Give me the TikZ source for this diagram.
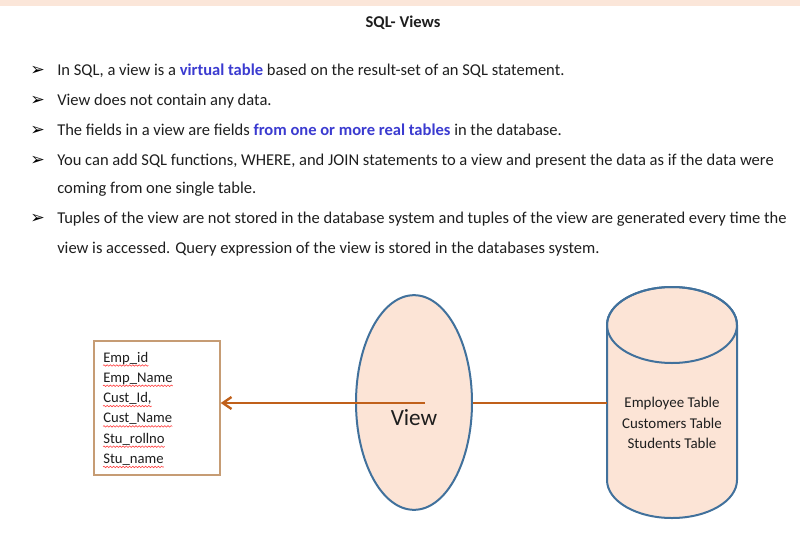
\documentclass[tikz,border=0pt]{standalone}
\usepackage{fontspec}
\setmainfont{Carlito}
\newfontfamily\symfont{DejaVu Sans}
\usetikzlibrary{shapes.geometric,arrows.meta,decorations.pathmorphing}
\definecolor{peach}{HTML}{FCE4D6}
\definecolor{topband}{HTML}{FBE6D9}
\definecolor{outlineblue}{HTML}{41719C}
\definecolor{arrowbrown}{HTML}{C0601A}
\definecolor{boxtan}{HTML}{C69C74}
\definecolor{txt}{HTML}{1E1E1E}
\definecolor{hlblue}{HTML}{3B3BD0}
\tikzset{
  bodytext/.style={anchor=base west, inner sep=0pt, text=txt, font=\fontsize{12.4pt}{15pt}\selectfont},
  bul/.style={anchor=base west, inner sep=0pt, text=black, font=\symfont\fontsize{13pt}{14pt}\selectfont},
  titlestyle/.style={anchor=base, inner sep=0pt, text=txt, font=\bfseries\fontsize{12.4pt}{15pt}\selectfont},
  fieldbox/.style={draw=boxtan, line width=1.1pt, fill=white, inner sep=0pt},
  fieldtext/.style={anchor=base west, inner sep=0pt, text=txt, font=\fontsize{11pt}{13pt}\selectfont},
  squig/.style={draw=red!75, line width=0.45pt, decorate, decoration={snake, amplitude=0.55pt, segment length=2.4pt}},
  viewell/.style={ellipse, draw=outlineblue, line width=1.5pt, fill=peach, inner sep=0pt, minimum width=87pt, minimum height=161pt},
  viewlbl/.style={anchor=base, inner sep=0pt, text=txt, font=\fontsize{17.4pt}{20pt}\selectfont},
  cyl/.style={draw=outlineblue, line width=1.5pt, fill=peach},
  dbtext/.style={align=center, inner sep=0pt, text=txt, font=\fontsize{11.2pt}{15.4pt}\selectfont},
  brownline/.style={draw=arrowbrown, line width=2pt},
}
\begin{document}
\begin{tikzpicture}[x=0.75pt,y=-0.75pt]
\useasboundingbox (0,0) rectangle (800,536);
\fill[topband] (0,0) rectangle (800,6);

% title
\node[titlestyle] (title) at (403,27) {SQL- Views};

% bullets
\node[bul] (b1) at (30,75) {➢};
\node[bodytext] (l1) at (57,75) {In SQL, a view is a \textcolor{hlblue}{\bfseries virtual table} based on the result-set of an SQL statement.};
\node[bul] (b2) at (30,105) {➢};
\node[bodytext] (l2) at (57,105) {View does not contain any data.};
\node[bul] (b3) at (30,135) {➢};
\node[bodytext] (l3) at (57,135) {The fields in a view are fields \textcolor{hlblue}{\bfseries from one or more real tables} in the database.};
\node[bul] (b4) at (30,165) {➢};
\node[bodytext] (l4) at (57,165) {You can add SQL functions, WHERE, and JOIN statements to a view and present the data as if the data were};
\node[bodytext] (l4b) at (57,193) {coming from one single table.};
\node[bul] (b5) at (30,223) {➢};
\node[bodytext] (l5) at (57,223) {Tuples of the view are not stored in the database system and tuples of the view are generated every time the};
\node[bodytext] (l5b) at (57,253) {view is accessed. Query expression of the view is stored in the databases system.};

% field box
\node[fieldbox, minimum width=94.5pt, minimum height=100.5pt] (fields) at (157,408) {};
\node[fieldtext] (f1) at (103,362) {Emp\_id};
\node[fieldtext] (f2) at (103,382.3) {Emp\_Name};
\node[fieldtext] (f3) at (103,402.6) {Cust\_Id,};
\node[fieldtext] (f4) at (103,422.9) {Cust\_Name};
\node[fieldtext] (f5) at (103,443.2) {Stu\_rollno};
\node[fieldtext] (f6) at (103,463.5) {Stu\_name};
\foreach \f in {f1,f2,f3,f4,f5,f6}
  \draw[squig] ([yshift=-2.6pt]\f.base west) -- ([yshift=-2.6pt]\f.base east);

% view ellipse
\node[viewell] (view) at (414,402.5) {};
\coordinate (viewc) at (425,403);

% cylinder
\filldraw[cyl] (607,325) -- (607,480) arc[start angle=180, end angle=0, x radius=65, y radius=38]
   -- (737,325) arc[start angle=0, end angle=-180, x radius=65, y radius=38] -- cycle;
\draw[cyl, fill=none] (672,325) ellipse[x radius=65, y radius=38];
\coordinate (dbw) at (607,403);
\node[dbtext] (db) at (672,423) {Employee Table\\Customers Table\\Students Table};

% connectors
\draw[brownline, -{Straight Barb[length=6.5pt, width=9pt, line width=1.8pt]}] (viewc) -- (viewc -| fields.east);
\draw[brownline] (view.east |- viewc) -- (dbw);

\node[viewlbl] (viewtxt) at (414,425.5) {View};
\end{tikzpicture}
\end{document}
